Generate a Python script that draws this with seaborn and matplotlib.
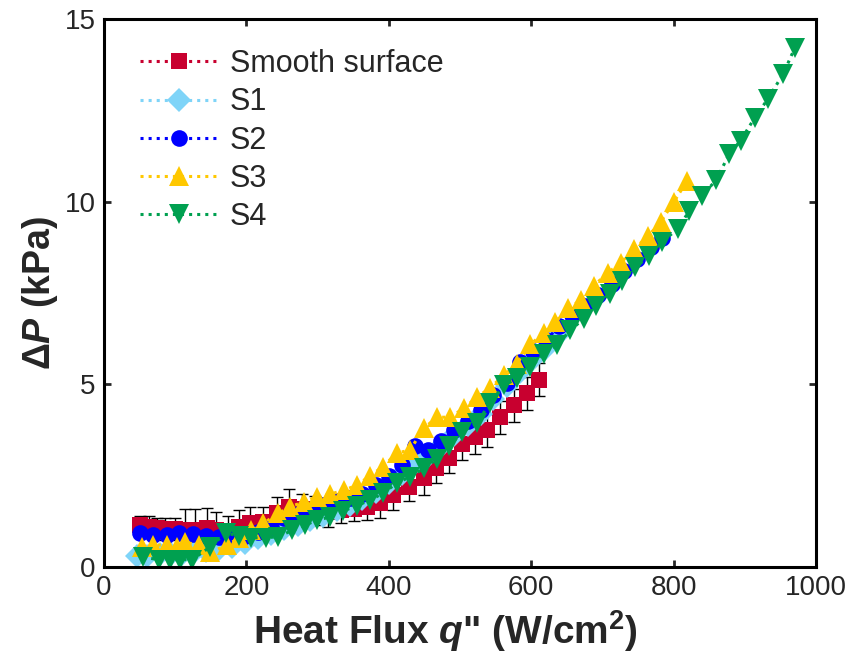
import matplotlib
matplotlib.use('Agg')
import matplotlib.pyplot as plt
import seaborn as sns

# --- data ---
smooth_x = [51, 63, 74, 86, 100, 114, 128, 144, 158, 174, 190, 205, 224, 243, 260,
            278, 296, 314, 333, 351, 370, 388, 406, 429, 449, 466, 484, 503, 521,
            538, 556, 576, 594, 611]
smooth_y = [1.15, 1.1, 1.08, 1.05, 1.05, 1.0, 1.0, 1.07, 1.0, 0.95, 1.1, 1.2, 1.23,
            1.47, 1.64, 1.6, 1.55, 1.5, 1.55, 1.6, 1.65, 1.74, 1.97, 2.2, 2.43, 2.7,
            2.98, 3.38, 3.55, 3.74, 4.1, 4.43, 4.75, 5.13]
smooth_err = [0.25, 0.3, 0.25, 0.3, 0.3, 0.6, 0.6, 0.55, 0.5, 0.45, 0.45, 0.45, 0.4,
              0.45, 0.5, 0.4, 0.4, 0.4, 0.35, 0.35, 0.35, 0.4, 0.4, 0.4, 0.45, 0.4,
              0.4, 0.45, 0.45, 0.45, 0.45, 0.45, 0.45, 0.45]

s1_x = [46, 61, 78, 94, 110, 127, 143, 161, 180, 198, 216, 235, 253, 272, 290, 308,
        327, 345, 363, 382, 400, 419, 437, 455, 474, 492, 511, 529, 547, 566, 584,
        602, 621, 641]
s1_y = [0.3, 0.3, 0.35, 0.35, 0.35, 0.4, 0.45, 0.5, 0.55, 0.65, 0.8, 0.9, 1.05, 1.15,
        1.3, 1.4, 1.55, 1.7, 1.85, 2.05, 2.3, 2.55, 2.85, 3.05, 3.3, 3.6, 3.9, 4.2,
        4.6, 4.95, 5.35, 5.7, 6.0, 6.4]

s2_x = [51, 69, 88, 106, 125, 143, 161, 180, 198, 216, 235, 253, 272, 290, 308, 327,
        345, 363, 382, 400, 419, 437, 455, 474, 492, 511, 529, 547, 566, 584, 602,
        621, 639, 658, 676, 694, 713, 731, 749, 768, 784]
s2_y = [0.93, 0.87, 0.87, 0.92, 0.9, 0.85, 0.82, 0.82, 0.85, 0.95, 1.1, 1.35, 1.45,
        1.55, 1.7, 1.8, 1.9, 2.0, 2.25, 2.5, 2.8, 3.3, 3.2, 3.45, 3.74, 4.0, 4.3, 4.7,
        5.05, 5.6, 5.9, 6.2, 6.6, 6.9, 7.15, 7.45, 7.75, 8.1, 8.44, 8.75, 9.0]

s3_x = [53, 69, 88, 102, 114, 133, 149, 173, 190, 207, 224, 245, 261, 281, 299, 318,
        337, 355, 374, 392, 411, 430, 449, 468, 486, 505, 524, 542, 562, 580, 599,
        618, 634, 652, 670, 688, 708, 726, 744, 764, 782, 800, 819]
s3_y = [0.55, 0.6, 0.6, 0.55, 0.68, 0.6, 0.4, 0.6, 0.8, 1.0, 1.2, 1.47, 1.65, 1.78,
        1.92, 2.0, 2.1, 2.24, 2.5, 2.75, 3.12, 3.2, 3.8, 4.1, 4.1, 4.34, 4.65, 4.9,
        5.25, 5.57, 6.1, 6.4, 6.7, 7.1, 7.3, 7.7, 8.06, 8.33, 8.7, 9.05, 9.45, 9.98,
        10.57]

s4_x = [55, 77, 93, 107, 124, 149, 171, 189, 207, 227, 245, 264, 283, 299, 318, 336,
        355, 374, 392, 411, 430, 449, 467, 485, 503, 524, 542, 562, 580, 599, 618,
        636, 655, 674, 691, 710, 728, 746, 765, 784, 806, 822, 840, 860, 878, 894,
        914, 932, 954, 970]
s4_y = [0.27, 0.2, 0.2, 0.2, 0.2, 0.55, 0.93, 0.85, 0.8, 0.8, 0.83, 1.0, 1.15, 1.28,
        1.37, 1.53, 1.68, 1.83, 2.02, 2.29, 2.47, 2.7, 2.95, 3.3, 3.7, 3.93, 4.5,
        4.97, 5.16, 5.47, 5.84, 6.07, 6.48, 6.8, 7.15, 7.48, 7.84, 8.2, 8.5, 8.9,
        9.26, 9.75, 10.16, 10.6, 11.3, 11.67, 12.3, 12.8, 13.5, 14.2]

labels = ['Smooth surface', 'S1', 'S2', 'S3', 'S4']
colors = ['#c8002f', '#7fd4f8', '#0000ff', '#ffc800', '#00a050']
markers = ['s', 'D', 'o', '^', 'v']
sizes = [11.5, 12, 12, 15, 15]

sns.set_style('ticks')
plt.rcParams['font.family'] = ['Liberation Sans', 'DejaVu Sans']
plt.rcParams['mathtext.fontset'] = 'custom'
plt.rcParams['mathtext.rm'] = 'Liberation Sans:bold'
plt.rcParams['mathtext.it'] = 'Liberation Sans:italic:bold'
plt.rcParams['mathtext.bf'] = 'Liberation Sans:bold'

fig, ax = plt.subplots(figsize=(8.58, 6.63), dpi=100)
fig.subplots_adjust(left=104/858, right=816/858, top=1-19/663, bottom=1-567/663)

ax.errorbar(smooth_x, smooth_y, yerr=smooth_err, fmt='none', ecolor='black',
            elinewidth=1, capsize=4, capthick=1, zorder=1.5)

series = [(smooth_x, smooth_y), (s1_x, s1_y), (s2_x, s2_y), (s3_x, s3_y), (s4_x, s4_y)]
for (xs, ys), lab, c, m, ms in zip(series, labels, colors, markers, sizes):
    sns.lineplot(x=xs, y=ys, ax=ax, color=c, marker=m, markersize=ms,
                 markeredgecolor=c, markeredgewidth=0, linestyle=':', linewidth=2.2,
                 label=lab, zorder=2)

ax.set_xlim(0, 1000)
ax.set_ylim(0, 15)
ax.set_xticks([0, 200, 400, 600, 800, 1000])
ax.set_yticks([0, 5, 10, 15])
ax.tick_params(direction='in', length=5, width=2, labelsize=20, top=True, right=True,
               pad=6)
for sp in ax.spines.values():
    sp.set_linewidth(2.2)
    sp.set_color('black')

ax.set_xlabel(r'Heat Flux $\mathit{q}$" (W/cm$^{\mathbf{2}}$)', fontsize=28,
              fontweight='bold', labelpad=4)
ax.xaxis.set_label_coords(0.48, -0.075)
ax.set_ylabel(r'$\mathit{\Delta P}$ (kPa)', fontsize=27, fontweight='bold', labelpad=3)

ax.legend(loc='upper left', bbox_to_anchor=(0.05, 0.945), frameon=False, fontsize=22,
          handlelength=2.6, handletextpad=0.35, labelspacing=0.27, borderpad=0,
          borderaxespad=0)

fig.savefig('out.png', dpi=100)
